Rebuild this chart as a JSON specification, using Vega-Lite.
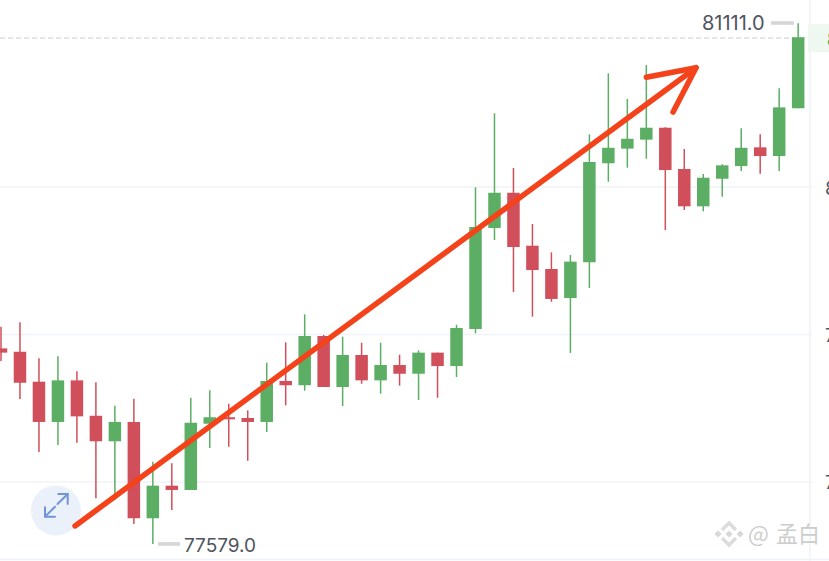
{
  "$schema": "https://vega.github.io/schema/vega-lite/v6.json",
  "width": 829,
  "height": 561,
  "padding": 0,
  "autosize": {"type": "none"},
  "background": "white",
  "datasets": {
    "candles": [
      {"i":0,"open":78906,"close":78877,"high":79053,"low":78820},
      {"i":1,"open":78883,"close":78673,"high":79083,"low":78563},
      {"i":2,"open":78680,"close":78407,"high":78839,"low":78203},
      {"i":3,"open":78407,"close":78689,"high":78852,"low":78251},
      {"i":4,"open":78689,"close":78445,"high":78750,"low":78266},
      {"i":5,"open":78449,"close":78276,"high":78676,"low":77889},
      {"i":6,"open":78276,"close":78407,"high":78517,"low":77878},
      {"i":7,"open":78407,"close":77754,"high":78565,"low":77715},
      {"i":8,"open":77754,"close":77975,"high":78138,"low":77579},
      {"i":9,"open":77975,"close":77946,"high":78127,"low":77810},
      {"i":10,"open":77946,"close":78402,"high":78571,"low":77946},
      {"i":11,"open":78395,"close":78439,"high":78622,"low":78230},
      {"i":12,"open":78439,"close":78425,"high":78531,"low":78239},
      {"i":13,"open":78434,"close":78407,"high":78486,"low":78144},
      {"i":14,"open":78407,"close":78685,"high":78809,"low":78339},
      {"i":15,"open":78685,"close":78656,"high":78947,"low":78520},
      {"i":16,"open":78656,"close":78990,"high":79137,"low":78619},
      {"i":17,"open":78990,"close":78644,"high":78997,"low":78644},
      {"i":18,"open":78644,"close":78861,"high":78985,"low":78515},
      {"i":19,"open":78861,"close":78689,"high":78944,"low":78666},
      {"i":20,"open":78689,"close":78793,"high":78944,"low":78599},
      {"i":21,"open":78793,"close":78734,"high":78863,"low":78653},
      {"i":22,"open":78734,"close":78877,"high":78893,"low":78556},
      {"i":23,"open":78877,"close":78786,"high":78877,"low":78571},
      {"i":24,"open":78786,"close":79044,"high":79066,"low":78712},
      {"i":25,"open":79037,"close":79729,"high":79998,"low":79008},
      {"i":26,"open":79722,"close":79961,"high":80500,"low":79641},
      {"i":27,"open":79961,"close":79593,"high":80129,"low":79288},
      {"i":28,"open":79602,"close":79437,"high":79749,"low":79121},
      {"i":29,"open":79444,"close":79241,"high":79557,"low":79222},
      {"i":30,"open":79247,"close":79494,"high":79539,"low":78875},
      {"i":31,"open":79489,"close":80170,"high":80357,"low":79315},
      {"i":32,"open":80161,"close":80266,"high":80771,"low":80036},
      {"i":33,"open":80260,"close":80327,"high":80597,"low":80131},
      {"i":34,"open":80321,"close":80402,"high":80827,"low":80192},
      {"i":35,"open":80402,"close":80115,"high":80405,"low":79708},
      {"i":36,"open":80122,"close":79869,"high":80258,"low":79844},
      {"i":37,"open":79869,"close":80063,"high":80088,"low":79835},
      {"i":38,"open":80056,"close":80147,"high":80154,"low":79934},
      {"i":39,"open":80142,"close":80266,"high":80398,"low":80108},
      {"i":40,"open":80269,"close":80210,"high":80357,"low":80090},
      {"i":41,"open":80210,"close":80540,"high":80669,"low":80108},
      {"i":42,"open":80534,"close":81015,"high":81111,"low":80534}
    ],
    "grid": [
      {"i":-0.05,"i2":42.78,"price":80000},
      {"i":-0.05,"i2":42.78,"price":79000},
      {"i":-0.05,"i2":42.78,"price":78000},
      {"i":-0.05,"i2":43.63,"price":77474}
    ],
    "arrow": [
      {"part":"shaft","n":0,"i":3.9,"price":77702},
      {"part":"shaft","n":1,"i":36.62,"price":80809},
      {"part":"head","n":0,"i":34.0,"price":80744},
      {"part":"head","n":1,"i":36.62,"price":80809},
      {"part":"head","n":2,"i":35.41,"price":80508}
    ],
    "icon": [
      {"part":"a","n":0,"i":2.32,"price":77765},
      {"part":"a","n":1,"i":2.845,"price":77832},
      {"part":"b","n":0,"i":2.32,"price":77828},
      {"part":"b","n":1,"i":2.32,"price":77765},
      {"part":"b","n":2,"i":2.845,"price":77765},
      {"part":"c","n":0,"i":2.977,"price":77851},
      {"part":"c","n":1,"i":3.514,"price":77919},
      {"part":"d","n":0,"i":3.02,"price":77919},
      {"part":"d","n":1,"i":3.514,"price":77919},
      {"part":"d","n":2,"i":3.514,"price":77851}
    ],
    "labels": [
      {"i":9.64,"price":77573,"label":"77579.0"},
      {"i":43.41,"price":80000,"label":"80000.0"},
      {"i":43.41,"price":79000,"label":"79000.0"},
      {"i":43.41,"price":78000,"label":"78000.0"}
    ],
    "dashes": [
      {"i":40.57,"i2":41.78,"price":81112},
      {"i":8.27,"i2":9.43,"price":77580}
    ],
    "watermark": [
      {"i":39.36,"price":77641,"label":"@"},
      {"i":40.83,"price":77641,"label":"孟白"}
    ],
    "logo": [
      {"part":"top","n":0,"i":37.99,"price":77674},
      {"part":"top","n":1,"i":38.36,"price":77722},
      {"part":"top","n":2,"i":38.72,"price":77674},
      {"part":"bottom","n":0,"i":37.99,"price":77620},
      {"part":"bottom","n":1,"i":38.36,"price":77573},
      {"part":"bottom","n":2,"i":38.72,"price":77620}
    ]
  },
  "encoding": {
    "x": {"field":"i","type":"quantitative","scale":{"domain":[-0.0527,43.625],"nice":false,"zero":false,"padding":0}},
    "y": {"field":"price","type":"quantitative","scale":{"domain":[77464.3,81267.9],"nice":false,"zero":false,"padding":0}}
  },
  "layer": [
    {
      "data": {"name":"grid"},
      "mark": {"type":"rule","color":"#f0f3f8","strokeWidth":1.5},
      "encoding": {"x2":{"field":"i2"}}
    },
    {
      "data": {"values":[{"i":42.62,"price":77464.3,"price2":81267.9}]},
      "mark": {"type":"rule","color":"#eef2f8","strokeWidth":1.5},
      "encoding": {"y2":{"field":"price2"}}
    },
    {
      "data": {"values":[{"i":-0.05,"i2":42.62,"price":81010}]},
      "mark": {"type":"rule","color":"#c8cad2","strokeWidth":1,"strokeDash":[5,3]},
      "encoding": {"x2":{"field":"i2"}}
    },
    {
      "data": {"values":[{"i":42.52,"i2":43.63,"price":81103,"price2":80913}]},
      "mark": {"type":"rect","color":"#eef7f0"},
      "encoding": {"x2":{"field":"i2"},"y2":{"field":"price2"}}
    },
    {
      "data": {"name":"candles"},
      "transform": [{"calculate":"datum.close > datum.open ? 'up' : 'down'","as":"side"}],
      "layer": [
        {
          "mark": {"type":"rule","strokeWidth":1.5},
          "encoding": {
            "y": {"field":"low","type":"quantitative"},
            "y2": {"field":"high"},
            "color": {"field":"side","scale":{"domain":["up","down"],"range":["#5bae64","#d14f5a"]},"legend":null}
          }
        },
        {
          "mark": {"type":"bar","size":12.5},
          "encoding": {
            "y": {"field":"open","type":"quantitative"},
            "y2": {"field":"close"},
            "color": {"field":"side","scale":{"domain":["up","down"],"range":["#5bae64","#d14f5a"]},"legend":null}
          }
        }
      ]
    },
    {
      "data": {"values":[{"i":2.897,"price":77807}]},
      "mark": {"type":"point","shape":"circle","filled":true,"size":2500,"color":"#eaf1fb","opacity":1}
    },
    {
      "data": {"name":"icon"},
      "mark": {"type":"line","color":"#6f94d8","strokeWidth":2,"strokeCap":"round","strokeJoin":"round"},
      "encoding": {"detail":{"field":"part"},"order":{"field":"n"}}
    },
    {
      "data": {"name":"arrow"},
      "mark": {"type":"line","color":"#f4421a","strokeWidth":5.5,"strokeCap":"round","strokeJoin":"round"},
      "encoding": {"detail":{"field":"part"},"order":{"field":"n"}}
    },
    {
      "data": {"name":"dashes"},
      "mark": {"type":"rule","color":"#d6d6d6","strokeWidth":3.6},
      "encoding": {"x2":{"field":"i2"}}
    },
    {
      "data": {"name":"labels"},
      "mark": {"type":"text","align":"left","baseline":"middle","dy":1.5,"font":"Inter","fontSize":19,"color":"#50545e"},
      "encoding": {"text":{"field":"label"}}
    },
    {
      "data": {"values":[{"i":36.93,"price":81112,"label":"81111.0"}]},
      "mark": {"type":"text","align":"left","baseline":"middle","dy":1.5,"font":"Inter","fontSize":20,"color":"#50545e"},
      "encoding": {"text":{"field":"label"}}
    },
    {
      "data": {"values":[{"i":43.5,"price":81010,"label":"81015.0"}]},
      "mark": {"type":"text","align":"left","baseline":"middle","dy":1.5,"font":"Inter","fontSize":19,"color":"#4aa85a"},
      "encoding": {"text":{"field":"label"}}
    },
    {
      "data": {"name":"logo"},
      "mark": {"type":"line","color":"#dcdcdc","strokeWidth":3.5,"strokeJoin":"miter"},
      "encoding": {"detail":{"field":"part"},"order":{"field":"n"}}
    },
    {
      "data": {"values":[{"i":38.36,"price":77647},{"i":37.78,"price":77647},{"i":38.94,"price":77647}]},
      "mark": {"type":"point","shape":"diamond","filled":true,"size":50,"color":"#d8d8d8","opacity":1}
    },
    {
      "data": {"name":"watermark"},
      "mark": {"type":"text","align":"left","baseline":"middle","font":"Noto Sans CJK SC","fontSize":22,"color":"#cdcdcd"},
      "encoding": {"text":{"field":"label"}}
    }
  ],
  "config": {
    "view": {"stroke": null},
    "axis": {"disable": true}
  }
}
